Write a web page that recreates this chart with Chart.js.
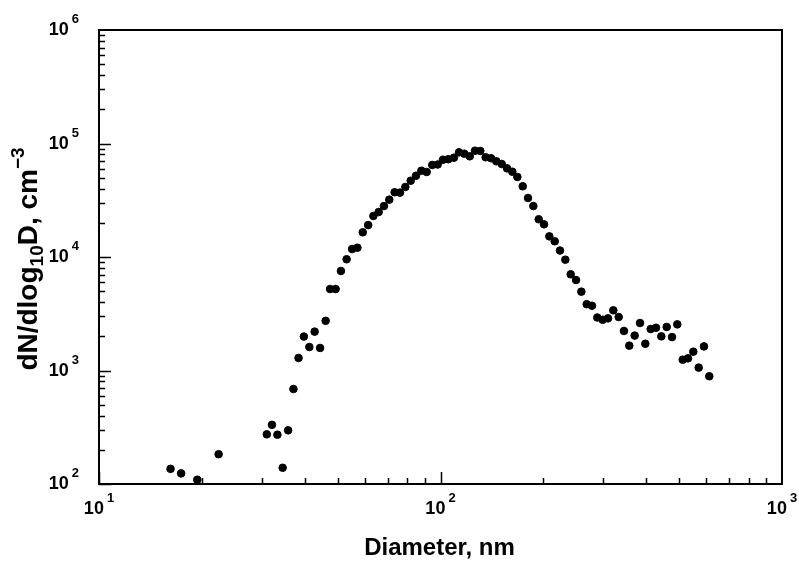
<!DOCTYPE html>
<html>
<head>
<meta charset="utf-8">
<script src="https://cdn.jsdelivr.net/npm/chart.js@4.4.0/dist/chart.umd.min.js"></script>
<style>
  html, body { margin: 0; padding: 0; background: #fff; }
  canvas { display: block; }
</style>
</head>
<body>
<canvas id="sizeChart" width="799" height="566"></canvas>
<script>
// 粒径 (nm)
const diameters = [
  16.2, 17.4, 19.4, 22.4, 31.0, 32.1, 33.3, 34.5, 35.8, 37.1,
  38.4, 39.8, 41.3, 42.8, 44.4, 46.1, 47.5, 49.3, 51.1, 53.1,
  55.1, 57.1, 59.2, 61.4, 63.6, 65.9, 68.3, 70.8, 73.4, 76.1,
  78.9, 81.8, 84.8, 87.9, 91.1, 94.6, 98.1, 101.7, 105.4, 109.5,
  113.3, 117.4, 121.8, 126.2, 130.8, 135.6, 140.6, 145.7, 151.1, 156.6,
  162.3, 167.9, 174.1, 180.4, 187.0, 193.9, 201.0, 208.3, 216.0, 223.8,
  232.0, 240.6, 249.4, 258.5, 268.0, 277.7, 287.8, 298.5, 309.4, 320.6,
  332.5, 344.6, 357.1, 370.3, 383.9, 397.9, 412.6, 427.6, 443.2, 459.6,
  476.4, 493.6, 512.0, 530.5, 549.9, 570.2, 590.9, 612.5
];

// dN/dlog10D (cm-3)
const concentrations = [
  136, 124, 109, 183, 274, 332, 272, 139, 297, 687,
  1290, 1990, 1610, 2200, 1580, 2740, 5220, 5220, 7530, 9550,
  11750, 12080, 16500, 19100, 23000, 24900, 28100, 32000, 37200, 36900,
  41400, 47000, 52000, 57600, 56100, 64700, 65300, 72000, 72700, 75000,
  83600, 81300, 77100, 86400, 86000, 75600, 74100, 69700, 66000, 60400,
  56400, 50700, 42000, 33100, 28100, 21500, 19400, 15200, 13750, 11400,
  9470, 7040, 6270, 4950, 3840, 3720, 2930, 2800, 2880, 3390,
  2960, 2230, 1655, 2030, 2620, 1720, 2320, 2380, 2000, 2420,
  1970, 2550, 1245, 1280, 1465, 1060, 1630, 890
];

// 目盛り
const xDecades = [1, 2, 3];
const yDecades = [2, 3, 4, 5, 6];
const xTitle = 'Diameter, nm';

const FONT = '"Liberation Sans", Arial, sans-serif';

function drawPow(ctx, exp, x, y, align) {
  // "10" + 上付き指数
  ctx.font = 'bold 18px ' + FONT;
  const baseW = ctx.measureText('10').width;
  ctx.font = 'bold 13px ' + FONT;
  const supW = ctx.measureText(String(exp)).width;
  const gap = 3;
  const total = baseW + gap + supW;
  let left = align === 'center' ? x - total / 2 : x - total;
  ctx.textAlign = 'left';
  ctx.textBaseline = 'alphabetic';
  ctx.font = 'bold 18px ' + FONT;
  ctx.fillText('10', left, y);
  ctx.font = 'bold 13px ' + FONT;
  ctx.fillText(String(exp), left + baseW + gap, y - 12);
}

const framePlugin = {
  id: 'frame',
  afterDraw(chart) {
    const ctx = chart.ctx;
    const area = chart.chartArea;
    const xs = chart.scales.x;
    const ys = chart.scales.y;
    ctx.save();
    ctx.strokeStyle = '#000';
    ctx.fillStyle = '#000';

    // 枠
    ctx.lineWidth = 2;
    ctx.strokeRect(area.left, area.top, area.right - area.left, area.bottom - area.top);

    // 目盛り線
    ctx.lineWidth = 1.5;
    ctx.beginPath();
    for (let d = 1; d < 3; d++) {
      for (let m = 1; m <= 9; m++) {
        const v = m * Math.pow(10, d);
        const px = Math.round(xs.getPixelForValue(v)) + 0.5;
        const len = m === 1 ? 12 : 6;
        ctx.moveTo(px, area.bottom);
        ctx.lineTo(px, area.bottom - len);
      }
    }
    for (let d = 2; d < 6; d++) {
      for (let m = 1; m <= 9; m++) {
        const v = m * Math.pow(10, d);
        const py = Math.round(ys.getPixelForValue(v)) + 0.5;
        const len = m === 1 ? 12 : 6;
        ctx.moveTo(area.left, py);
        ctx.lineTo(area.left + len, py);
      }
    }
    ctx.stroke();

    // 目盛りラベル
    xDecades.forEach(e => {
      drawPow(ctx, e, xs.getPixelForValue(Math.pow(10, e)), 514, 'center');
    });
    yDecades.forEach(e => {
      drawPow(ctx, e, 79, ys.getPixelForValue(Math.pow(10, e)) + 5, 'right');
    });

    // x軸タイトル
    ctx.font = 'bold 24px ' + FONT;
    ctx.textAlign = 'center';
    ctx.fillText(xTitle, (area.left + area.right) / 2 - 1, 555);

    // y軸タイトル (下付き・上付きあり)
    const parts = [
      { t: 'dN/dlog', size: 28, dy: 0 },
      { t: '10', size: 19, dy: 6 },
      { t: 'D, cm', size: 28, dy: 0 },
      { t: '\u22123', size: 19, dy: -13 }
    ];
    let total = 0;
    parts.forEach(p => {
      ctx.font = 'bold ' + p.size + 'px ' + FONT;
      p.w = ctx.measureText(p.t).width;
      total += p.w;
    });
    ctx.translate(37, 259);
    ctx.rotate(-Math.PI / 2);
    ctx.textAlign = 'left';
    let cx = -total / 2;
    parts.forEach(p => {
      ctx.font = 'bold ' + p.size + 'px ' + FONT;
      ctx.fillText(p.t, cx, p.dy);
      cx += p.w;
    });
    ctx.restore();
  }
};

new Chart(document.getElementById('sizeChart'), {
  type: 'scatter',
  data: {
    datasets: [{
      data: diameters.map((d, i) => ({ x: d, y: concentrations[i] })),
      backgroundColor: '#000',
      borderColor: '#000',
      pointRadius: 3.8,
      pointHoverRadius: 3.8
    }]
  },
  options: {
    responsive: false,
    animation: false,
    layout: {
      padding: { left: 99, right: 17, top: 30, bottom: 82 }
    },
    plugins: {
      legend: { display: false },
      tooltip: { enabled: false }
    },
    scales: {
      x: { type: 'logarithmic', min: 10, max: 1000, display: false },
      y: { type: 'logarithmic', min: 100, max: 1000000, display: false }
    }
  },
  plugins: [framePlugin]
});
</script>
</body>
</html>
